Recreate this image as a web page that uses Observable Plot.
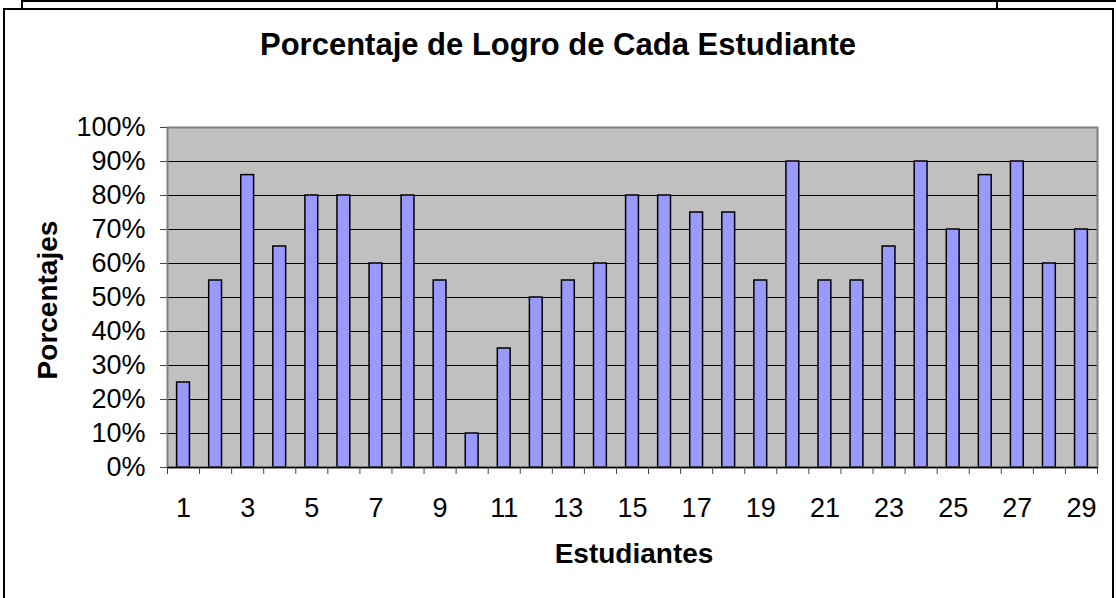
<!DOCTYPE html>
<html>
<head>
<meta charset="utf-8">
<script src="https://cdn.jsdelivr.net/npm/d3@7"></script>
<script src="https://cdn.jsdelivr.net/npm/@observablehq/plot@0.6"></script>
<style>
  html, body { margin: 0; padding: 0; background: #fff; }
  #wrap { position: relative; width: 1116px; height: 598px; overflow: hidden; font-family: "Liberation Sans", Arial, sans-serif; }
  #wrap svg { position: absolute; left: 0; top: 0; }
  .abs { position: absolute; }
  #box { left: 3px; top: 8px; width: 1111px; height: 620px; border: 2px solid #000; box-sizing: border-box; }
  #topline { left: 21px; top: 0px; width: 1100px; height: 0; border-top: 2px solid #000; }
  .vtick { top: 0; width: 0; height: 8px; border-left: 2px solid #000; }
  #title { left: 0; top: 29px; width: 1116px; text-align: center; font-weight: bold; font-size: 31px; line-height: 31px; color: #000; }
  #xtitle { left: 634px; top: 554px; transform: translate(-50%, -50%); font-weight: bold; font-size: 28px; line-height: 28px; white-space: nowrap; color: #000; }
  #ytitle { left: 48px; top: 300px; transform: translate(-50%, -50%) rotate(-90deg); font-weight: bold; font-size: 28px; line-height: 28px; white-space: nowrap; color: #000; }
</style>
</head>
<body>
<div id="wrap">
  <div class="abs" id="topline"></div>
  <div class="abs vtick" style="left:21px"></div>
  <div class="abs vtick" style="left:996px"></div>
  <div class="abs" id="box"></div>
  <div class="abs" id="title"></div>
  <div class="abs" id="xtitle"></div>
  <div class="abs" id="ytitle"></div>
</div>
<script>
const chartTitle = "Porcentaje de Logro de Cada Estudiante";
const xTitle = "Estudiantes";
const yTitle = "Porcentajes";

const students = [1,2,3,4,5,6,7,8,9,10,11,12,13,14,15,16,17,18,19,20,21,22,23,24,25,26,27,28,29];
const logro = [0.25,0.55,0.86,0.65,0.80,0.80,0.60,0.80,0.55,0.10,0.35,0.50,0.55,0.60,0.80,0.80,0.75,0.75,0.55,0.90,0.55,0.55,0.65,0.90,0.70,0.86,0.90,0.60,0.70];

const yTicks = [0,0.1,0.2,0.3,0.4,0.5,0.6,0.7,0.8,0.9,1.0];
const yTickLabels = ["0%","10%","20%","30%","40%","50%","60%","70%","80%","90%","100%"];
const xTickLabels = [1,3,5,7,9,11,13,15,17,19,21,23,25,27,29];

const data = students.map((s, i) => ({s, v: logro[i]}));
const half = 0.2; // bar half-width in category units (gap width 150%)
const boundaries = [0.5].concat(students.map(s => s + 0.5));
const grid = yTicks.slice(1, -1);

document.getElementById("title").textContent = chartTitle;
document.getElementById("xtitle").textContent = xTitle;
document.getElementById("ytitle").textContent = yTitle;

const chart = Plot.plot({
  width: 1116,
  height: 598,
  marginLeft: 167,
  marginRight: 19,
  marginTop: 127,
  marginBottom: 131,
  style: {fontFamily: '"Liberation Sans", Arial, sans-serif', fontSize: "27px", background: "transparent", color: "#000", overflow: "visible"},
  x: {domain: [0.5, 29.5], axis: null},
  y: {domain: [0, 1], axis: null},
  marks: [
    Plot.frame({fill: "#C0C0C0", stroke: null}),
    Plot.ruleY(grid, {stroke: "#000", strokeWidth: 1}),
    Plot.rectY(data, {x1: d => d.s - half, x2: d => d.s + half, y1: 0, y2: "v", fill: "#9999FF", stroke: "#000", strokeWidth: 1.5}),
    Plot.frame({stroke: "#808080", strokeWidth: 2}),
    Plot.ruleY([0], {stroke: "#000", strokeWidth: 1.5}),
    Plot.axisY({ticks: yTicks, tickFormat: d => yTickLabels[yTicks.indexOf(d)], tickSize: 7, tickPadding: 15, label: null, stroke: "#444"}),
    Plot.axisX({ticks: boundaries, tickFormat: () => "", tickSize: 7, label: null, stroke: "#444"}),
    Plot.axisX({ticks: xTickLabels, tickSize: 0, tickPadding: 30, label: null})
  ]
});
document.getElementById("wrap").insertBefore(chart, document.getElementById("wrap").firstChild);
</script>
</body>
</html>
